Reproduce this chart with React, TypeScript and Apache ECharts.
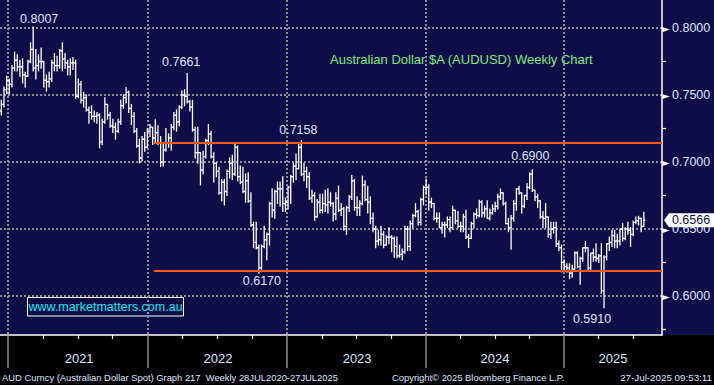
import React, { useEffect, useRef } from "react";
import * as echarts from "echarts";

// Weekly AUDUSD bars, one per week (Fri 4 Dec 2020 .. Fri 25 Jul 2025). Open = previous close.
const firstOpen = 0.738;
const closes = [
  0.7430, 0.7540, 0.7610, 0.7580, 0.7700, 0.7760, 0.7710, 0.7710, 0.7650, 0.7640,
  0.7750, 0.7840, 0.7700, 0.7720, 0.7750, 0.7750, 0.7610, 0.7600, 0.7620, 0.7740,
  0.7720, 0.7720, 0.7830, 0.7770, 0.7740, 0.7710, 0.7740, 0.7740, 0.7490, 0.7580,
  0.7460, 0.7480, 0.7390, 0.7370, 0.7340, 0.7340, 0.7350, 0.7150, 0.7300, 0.7430,
  0.7350, 0.7270, 0.7260, 0.7230, 0.7300, 0.7420, 0.7480, 0.7520, 0.7400, 0.7340,
  0.7230, 0.7120, 0.7030, 0.7170, 0.7110, 0.7230, 0.7260, 0.7180, 0.7220, 0.7140,
  0.7000, 0.7090, 0.7140, 0.7180, 0.7260, 0.7350, 0.7300, 0.7410, 0.7500, 0.7490,
  0.7450, 0.7410, 0.7240, 0.7070, 0.7070, 0.6940, 0.7040, 0.7160, 0.7210, 0.7040,
  0.6990, 0.6930, 0.6770, 0.6850, 0.6780, 0.6930, 0.6990, 0.6910, 0.7110, 0.6890,
  0.6850, 0.6780, 0.6860, 0.6710, 0.6530, 0.6400, 0.6360, 0.6210, 0.6370, 0.6420,
  0.6460, 0.6690, 0.6640, 0.6780, 0.6800, 0.6800, 0.6690, 0.6700, 0.6810, 0.6890,
  0.6970, 0.6950, 0.7110, 0.6910, 0.6930, 0.6890, 0.6730, 0.6750, 0.6590, 0.6700,
  0.6640, 0.6690, 0.6680, 0.6700, 0.6690, 0.6610, 0.6730, 0.6640, 0.6650, 0.6520,
  0.6660, 0.6740, 0.6860, 0.6660, 0.6660, 0.6690, 0.6830, 0.6720, 0.6700, 0.6580,
  0.6500, 0.6410, 0.6420, 0.6460, 0.6380, 0.6440, 0.6440, 0.6430, 0.6370, 0.6300,
  0.6310, 0.6330, 0.6500, 0.6370, 0.6540, 0.6600, 0.6630, 0.6550, 0.6720, 0.6810,
  0.6810, 0.6700, 0.6690, 0.6580, 0.6580, 0.6510, 0.6530, 0.6530, 0.6570, 0.6510,
  0.6640, 0.6560, 0.6520, 0.6520, 0.6590, 0.6440, 0.6430, 0.6540, 0.6610, 0.6600,
  0.6700, 0.6620, 0.6650, 0.6580, 0.6620, 0.6650, 0.6670, 0.6740, 0.6770, 0.6690,
  0.6540, 0.6510, 0.6580, 0.6690, 0.6800, 0.6770, 0.6670, 0.6750, 0.6810, 0.6910,
  0.6790, 0.6740, 0.6710, 0.6590, 0.6580, 0.6590, 0.6460, 0.6500, 0.6510, 0.6390,
  0.6360, 0.6250, 0.6220, 0.6210, 0.6170, 0.6200, 0.6320, 0.6220, 0.6280, 0.6360,
  0.6360, 0.6210, 0.6320, 0.6290, 0.6280, 0.6300, 0.6040, 0.6290, 0.6390, 0.6400,
  0.6450, 0.6410, 0.6410, 0.6500, 0.6430, 0.6500, 0.6490, 0.6460, 0.6550, 0.6560,
  0.6580, 0.6520, 0.6566,
];
const highs = [
  0.7460, 0.7560, 0.7640, 0.7620, 0.7720, 0.7820, 0.7800, 0.7760, 0.7770, 0.7670,
  0.7760, 0.7890, 0.8007, 0.7840, 0.7800, 0.7850, 0.7740, 0.7650, 0.7670, 0.7760,
  0.7810, 0.7790, 0.7840, 0.7890, 0.7810, 0.7760, 0.7770, 0.7780, 0.7760, 0.7620,
  0.7600, 0.7520, 0.7500, 0.7410, 0.7420, 0.7380, 0.7370, 0.7360, 0.7320, 0.7480,
  0.7430, 0.7370, 0.7320, 0.7290, 0.7320, 0.7460, 0.7500, 0.7556, 0.7530, 0.7430,
  0.7370, 0.7250, 0.7170, 0.7190, 0.7220, 0.7250, 0.7280, 0.7260, 0.7315, 0.7270,
  0.7190, 0.7130, 0.7250, 0.7210, 0.7280, 0.7370, 0.7390, 0.7420, 0.7530, 0.7540,
  0.7661, 0.7460, 0.7460, 0.7260, 0.7260, 0.7070, 0.7080, 0.7170, 0.7280, 0.7230,
  0.7070, 0.6990, 0.6960, 0.6870, 0.6870, 0.6940, 0.7030, 0.7050, 0.7137, 0.7120,
  0.6970, 0.6960, 0.6910, 0.6920, 0.6770, 0.6550, 0.6550, 0.6380, 0.6380, 0.6520,
  0.6470, 0.6700, 0.6800, 0.6790, 0.6850, 0.6850, 0.6890, 0.6730, 0.6820, 0.6900,
  0.6990, 0.7060, 0.7140, 0.7158, 0.6990, 0.6960, 0.6920, 0.6790, 0.6770, 0.6720,
  0.6760, 0.6760, 0.6790, 0.6800, 0.6770, 0.6700, 0.6770, 0.6820, 0.6690, 0.6660,
  0.6670, 0.6750, 0.6900, 0.6870, 0.6740, 0.6710, 0.6895, 0.6860, 0.6820, 0.6740,
  0.6620, 0.6520, 0.6490, 0.6520, 0.6480, 0.6450, 0.6510, 0.6450, 0.6440, 0.6440,
  0.6380, 0.6350, 0.6520, 0.6520, 0.6560, 0.6610, 0.6690, 0.6640, 0.6730, 0.6820,
  0.6871, 0.6830, 0.6730, 0.6690, 0.6620, 0.6620, 0.6550, 0.6550, 0.6590, 0.6590,
  0.6670, 0.6630, 0.6630, 0.6550, 0.6610, 0.6640, 0.6460, 0.6550, 0.6620, 0.6650,
  0.6715, 0.6710, 0.6670, 0.6710, 0.6650, 0.6680, 0.6700, 0.6760, 0.6798, 0.6770,
  0.6700, 0.6580, 0.6600, 0.6710, 0.6800, 0.6820, 0.6770, 0.6750, 0.6840, 0.6920,
  0.6942, 0.6790, 0.6760, 0.6710, 0.6630, 0.6690, 0.6590, 0.6550, 0.6550, 0.6550,
  0.6410, 0.6380, 0.6270, 0.6240, 0.6240, 0.6230, 0.6330, 0.6330, 0.6290, 0.6360,
  0.6408, 0.6360, 0.6320, 0.6350, 0.6390, 0.6310, 0.6390, 0.6300, 0.6390, 0.6440,
  0.6490, 0.6490, 0.6460, 0.6500, 0.6540, 0.6510, 0.6550, 0.6510, 0.6560, 0.6590,
  0.6595, 0.6580, 0.6625,
];
const lows = [
  0.7350, 0.7410, 0.7510, 0.7510, 0.7560, 0.7680, 0.7680, 0.7640, 0.7590, 0.7560,
  0.7640, 0.7740, 0.7680, 0.7620, 0.7680, 0.7700, 0.7560, 0.7530, 0.7560, 0.7600,
  0.7680, 0.7680, 0.7700, 0.7680, 0.7700, 0.7650, 0.7650, 0.7690, 0.7475, 0.7480,
  0.7440, 0.7410, 0.7380, 0.7290, 0.7320, 0.7300, 0.7290, 0.7106, 0.7130, 0.7290,
  0.7320, 0.7260, 0.7220, 0.7170, 0.7220, 0.7280, 0.7400, 0.7440, 0.7370, 0.7280,
  0.7220, 0.7110, 0.6993, 0.7010, 0.7080, 0.7110, 0.7190, 0.7130, 0.7150, 0.7130,
  0.6967, 0.6970, 0.7080, 0.7110, 0.7090, 0.7240, 0.7230, 0.7270, 0.7400, 0.7420,
  0.7440, 0.7380, 0.7230, 0.7030, 0.6990, 0.6829, 0.6910, 0.7030, 0.7130, 0.7030,
  0.6850, 0.6890, 0.6760, 0.6710, 0.6680, 0.6750, 0.6880, 0.6870, 0.6900, 0.6860,
  0.6840, 0.6770, 0.6700, 0.6700, 0.6520, 0.6360, 0.6350, 0.6170, 0.6200, 0.6360,
  0.6270, 0.6380, 0.6590, 0.6580, 0.6690, 0.6670, 0.6630, 0.6630, 0.6650, 0.6690,
  0.6850, 0.6870, 0.6950, 0.6900, 0.6860, 0.6810, 0.6720, 0.6700, 0.6565, 0.6590,
  0.6620, 0.6620, 0.6630, 0.6620, 0.6670, 0.6560, 0.6570, 0.6630, 0.6600, 0.6490,
  0.6460, 0.6630, 0.6720, 0.6640, 0.6600, 0.6600, 0.6680, 0.6710, 0.6620, 0.6540,
  0.6480, 0.6360, 0.6380, 0.6380, 0.6360, 0.6380, 0.6390, 0.6330, 0.6290, 0.6286,
  0.6290, 0.6270, 0.6320, 0.6340, 0.6340, 0.6510, 0.6590, 0.6530, 0.6530, 0.6680,
  0.6760, 0.6640, 0.6660, 0.6570, 0.6550, 0.6510, 0.6470, 0.6440, 0.6510, 0.6480,
  0.6500, 0.6540, 0.6510, 0.6480, 0.6480, 0.6430, 0.6362, 0.6430, 0.6510, 0.6580,
  0.6590, 0.6590, 0.6590, 0.6580, 0.6570, 0.6610, 0.6630, 0.6650, 0.6720, 0.6680,
  0.6540, 0.6480, 0.6349, 0.6560, 0.6640, 0.6760, 0.6620, 0.6660, 0.6720, 0.6800,
  0.6780, 0.6710, 0.6660, 0.6580, 0.6510, 0.6510, 0.6440, 0.6430, 0.6470, 0.6370,
  0.6340, 0.6180, 0.6200, 0.6180, 0.6130, 0.6140, 0.6200, 0.6210, 0.6088, 0.6260,
  0.6330, 0.6190, 0.6190, 0.6260, 0.6260, 0.6250, 0.6020, 0.5913, 0.6270, 0.6340,
  0.6370, 0.6360, 0.6360, 0.6380, 0.6410, 0.6420, 0.6460, 0.6370, 0.6450, 0.6540,
  0.6530, 0.6480, 0.6520,
];

// Axis furniture (in week-index units on x)
const yearLabels = ["2021", "2022", "2023", "2024", "2025"];
const yearLabelPos = [29.3, 81.6, 134.0, 185.9, 230.4];
const yearLines = [2.5, 55.2, 107.6, 160.0, 211.9];
const quarterTicks = [15.7, 28.9, 41.7, 68.3, 81.4, 94.5, 120.7, 133.8, 146.9, 172.9, 185.9, 199.0, 225.0, 238.1];
const priceTicks = [0.6, 0.65, 0.7, 0.75, 0.8];
const minorPriceTicks = [0.575, 0.625, 0.675, 0.725, 0.775];
const xMin = -0.5;
const xMax = 248.84;
const yMin = 0.5709;
const yMax = 0.8209;

// Trend levels
const resistance = 0.7142;
const support = 0.6189;
const levelStartWeek = 57.5;

// Callouts: bar index, which extreme, printed text
const calloutIdx = [12, 70, 113, 97, 200, 227];
const calloutSide = ["high", "high", "high", "low", "high", "low"];
const calloutText = ["0.8007", "0.7661", "0.7158", "0.6170", "0.6900", "0.5910"];
const calloutOffset = [[6, -8], [-6, -11], [-3, -11], [3, 8], [-2, -14], [-12, 11]];

const TXT = "#dde6ff";
const GRID = "#8e8e98";
const FONT = "'Liberation Sans', Arial, sans-serif";

export default function App() {
  const ref = useRef<HTMLDivElement>(null);
  useEffect(() => {
    if (!ref.current) return;
    const chart = echarts.init(ref.current, undefined, { renderer: "svg" });
    const data = closes.map((c, i) => [i, i === 0 ? firstOpen : closes[i - 1], c, lows[i], highs[i]]);
    const last = closes[closes.length - 1];
    const markPts: any[] = calloutIdx.map((idx, k) => ({
      coord: [idx, calloutSide[k] === "high" ? highs[idx] : lows[idx]],
      symbol: "circle",
      symbolSize: 0,
      label: {
        show: true,
        formatter: calloutText[k],
        position: "inside",
        offset: calloutOffset[k],
        color: TXT,
        fontSize: 12.5,
        fontFamily: FONT,
      },
    }));
    markPts.push({
      coord: [xMax, last],
      symbol: "path://M0,7L5,0L50,0L50,14L5,14Z",
      symbolSize: [50, 14],
      symbolKeepAspect: false,
      symbolOffset: [27, 0],
      itemStyle: { color: "#ffffff" },
      label: {
        show: true,
        formatter: last.toFixed(4),
        position: "inside",
        offset: [2, 0],
        color: "#10103c",
        fontSize: 12.5,
        fontFamily: FONT,
      },
    });

    const option: any = {
      animation: false,
      backgroundColor: "transparent",
      grid: { left: 0, right: 52, top: 0, bottom: 50, containLabel: false },
      xAxis: [
        {
          type: "value",
          min: xMin,
          max: xMax,
          position: "bottom",
          axisLine: { show: true, onZero: false, lineStyle: { color: "#ffffff", width: 1.5 } },
          axisTick: { show: true, customValues: yearLines, length: 33, lineStyle: { color: "#8a8a8a", width: 1.5 } },
          splitLine: { show: true, lineStyle: { color: GRID, width: 2, type: [2, 2] } },
          axisLabel: {
            show: true,
            customValues: yearLabelPos,
            formatter: (v: any) => {
              const n = Number(v);
              let best = 0;
              yearLabelPos.forEach((p, i) => {
                if (Math.abs(p - n) < Math.abs(yearLabelPos[best] - n)) best = i;
              });
              return yearLabels[best];
            },
            color: TXT,
            fontSize: 13,
            margin: 17,
            fontFamily: FONT,
          },
        },
        {
          type: "value",
          min: xMin,
          max: xMax,
          position: "bottom",
          axisLine: { show: false, onZero: false },
          axisTick: { show: true, customValues: quarterTicks, length: 4, lineStyle: { color: "#ffffff", width: 1.2 } },
          splitLine: { show: false },
          axisLabel: { show: false },
        },
      ],
      yAxis: [
        {
          type: "value",
          min: yMin,
          max: yMax,
          position: "right",
          axisLine: { show: true, onZero: false, lineStyle: { color: "#ffffff", width: 1.5 } },
          axisTick: { show: false, customValues: priceTicks },
          splitLine: { show: true, lineStyle: { color: GRID, width: 2, type: [2, 2] } },
          axisLabel: {
            show: true,
            customValues: priceTicks,
            margin: 0,
            formatter: (v: any) => `{a|►}{b|${Number(v).toFixed(4)}}`,
            rich: {
              a: { color: "#ffffff", fontSize: 10, fontFamily: "DejaVu Sans", width: 10 },
              b: { color: TXT, fontSize: 12.5, fontFamily: FONT },
            },
          },
        },
        {
          type: "value",
          min: yMin,
          max: yMax,
          position: "right",
          axisLine: { show: false, onZero: false },
          axisTick: { show: true, inside: false, customValues: minorPriceTicks, length: 4, lineStyle: { color: "#ffffff", width: 1.2 } },
          splitLine: { show: false },
          axisLabel: { show: false },
        },
      ],
      series: [
        {
          type: "custom",
          xAxisIndex: 0,
          yAxisIndex: 0,
          clip: true,
          data,
          encode: { x: 0, y: [1, 2, 3, 4] },
          renderItem: (params: any, api: any) => {
            const x = api.value(0);
            const o = api.value(1);
            const c = api.value(2);
            const lo = Math.min(api.value(3), o, c);
            const hi = Math.max(api.value(4), o, c);
            const pO = api.coord([x, o]);
            const pC = api.coord([x, c]);
            const pL = api.coord([x, lo]);
            const pH = api.coord([x, hi]);
            const cx = pO[0];
            const st = { stroke: "#ffffff", lineWidth: 1.3 };
            return {
              type: "group",
              children: [
                { type: "line", shape: { x1: cx, y1: pH[1] - 0.5, x2: cx, y2: pL[1] + 0.5 }, style: st },
                { type: "line", shape: { x1: cx - 1.5, y1: pO[1], x2: cx, y2: pO[1] }, style: st },
                { type: "line", shape: { x1: cx, y1: pC[1], x2: cx + 1.5, y2: pC[1] }, style: st },
              ],
            };
          },
          markLine: {
            silent: true,
            symbol: "none",
            label: { show: false },
            lineStyle: { color: "#ff5a0a", width: 2, type: "solid" },
            data: [
              [{ coord: [levelStartWeek, resistance] }, { coord: [xMax, resistance] }],
              [{ coord: [levelStartWeek, support] }, { coord: [xMax, support] }],
            ],
          },
          markPoint: { silent: true, data: markPts },
          z: 3,
        },
      ],
      graphic: [
        {
          type: "text",
          x: 330,
          y: 59,
          style: {
            text: "Australian Dollar $A (AUDUSD) Weekly Chart",
            fill: "#7ee87e",
            font: `13px ${FONT}`,
            textVerticalAlign: "middle",
          },
        },
        {
          type: "rect",
          shape: { x: 27.5, y: 297.5, width: 156, height: 18.5 },
          style: { fill: "none", stroke: "#ffffff", lineWidth: 1 },
        },
        {
          type: "text",
          x: 105.5,
          y: 307,
          style: {
            text: "www.marketmatters.com.au",
            fill: "#19e5f2",
            font: `12.5px ${FONT}`,
            textAlign: "center",
            textVerticalAlign: "middle",
          },
        },
        {
          type: "text",
          x: 2,
          y: 377,
          style: {
            text: "AUD Curncy (Australian Dollar Spot) Graph 217  Weekly 28JUL2020-27JUL2025",
            fill: TXT,
            font: `9.4px ${FONT}`,
            textVerticalAlign: "middle",
          },
        },
        {
          type: "text",
          x: 392,
          y: 377,
          style: {
            text: "Copyright\u00a9 2025 Bloomberg Finance L.P.",
            fill: TXT,
            font: `9.4px ${FONT}`,
            textVerticalAlign: "middle",
          },
        },
        {
          type: "text",
          x: 712,
          y: 377,
          style: {
            text: "27-Jul-2025 09:53:11",
            fill: TXT,
            font: `9.8px ${FONT}`,
            textAlign: "right",
            textVerticalAlign: "middle",
          },
        },
      ],
    };
    chart.setOption(option);
    return () => chart.dispose();
  }, []);
  return (
    <div
      ref={ref}
      style={{
        position: "absolute",
        left: 0,
        top: 0,
        width: 714,
        height: 385,
        background: "linear-gradient(to bottom, #0f0d48 0px, #0f0d48 335px, #000000 335px, #000000 385px)",
      }}
    />
  );
}
